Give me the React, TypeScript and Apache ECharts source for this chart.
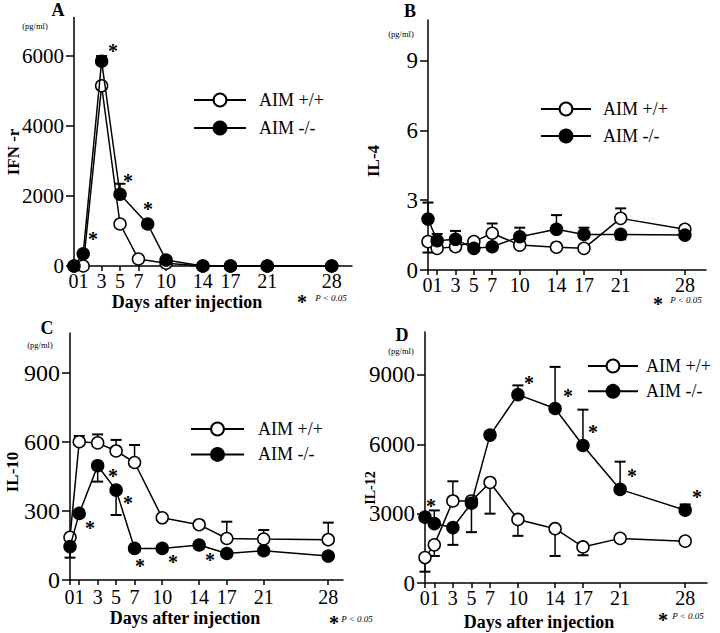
import React, { useEffect, useRef } from "react";
import * as echarts from "echarts";

const FONT = "'Liberation Serif', 'Times New Roman', serif";

// Shared x categories (days after injection)
const days = [0, 1, 3, 5, 7, 10, 14, 17, 21, 28];
// Tick labels: days 0 and 1 sit so close that they read as one "01" label
const dayLabelValues = [0.5, 3, 5, 7, 10, 14, 17, 21, 28];
const dayLabelText = ["01", "3", "5", "7", "10", "14", "17", "21", "28"];

// Panel A: IFN-r
const ifnTicks = [0, 2000, 4000, 6000];
const ifnWt = [0, 0, 5150, 1200, 200, 80, 0, 0, 0, 0];
const ifnKoDays = [0, 1, 3, 5, 8, 10, 14, 17, 21, 28];
const ifnKo = [0, 350, 5850, 2050, 1200, 170, 0, 0, 0, 0];
const ifnWtErr: number[][] = [];
const ifnKoErr = [[3, 5850, 6000], [5, 2050, 2350]];
const ifnStars = [[4.24, 6257], [5.87, 2543], [8.04, 1743], [2.07, 886]];

// Panel B: IL-4
const il4Ticks = [0, 3, 6, 9];
const il4Wt = [1.22, 0.93, 1.0, 1.22, 1.58, 1.07, 0.98, 0.93, 2.22, 1.75];
const il4Ko = [2.19, 1.26, 1.32, 0.93, 1.0, 1.43, 1.75, 1.53, 1.53, 1.5];
const il4WtErr = [[0, 1.22, 0.75], [7, 1.58, 2.0], [21, 2.22, 2.65]];
const il4KoErr = [[0, 2.19, 2.9], [1, 1.26, 1.55], [3, 1.32, 1.68], [10, 1.43, 1.82], [14, 1.75, 2.36], [17, 1.53, 1.82], [21, 1.53, 1.32]];
const il4Stars: number[][] = [];

// Panel C: IL-10
const il10Ticks = [0, 300, 600, 900];
const il10Wt = [185, 600, 595, 560, 510, 270, 240, 180, 178, 175];
const il10Ko = [145, 289, 496, 390, 137, 137, 152, 115, 127, 104];
const il10WtErr = [[1, 600, 625], [3, 595, 632], [5, 560, 608], [7, 510, 586], [17, 180, 253], [21, 178, 217], [28, 175, 249]];
const il10KoErr = [[0, 145, 97], [3, 496, 427], [5, 390, 282]];
const il10Stars = [[2.17, 243], [4.66, 469], [6.28, 352], [7.58, 78], [11.16, 95], [15.17, 104]];

// Panel D: IL-12
const il12Ticks = [0, 3000, 6000, 9000];
const il12Wt = [1100, 1650, 3550, 3550, 4350, 2750, 2350, 1560, 1930, 1810];
const il12Ko = [2850, 2570, 2400, 3450, 6400, 8150, 7550, 5950, 4050, 3150];
const il12WtErr = [[0, 1100, 490], [1, 1650, 1170], [3, 3550, 4400], [7, 4350, 3000], [10, 2750, 2040], [14, 2350, 1170], [17, 1560, 1200]];
const il12KoErr = [[1, 2570, 3140], [3, 2400, 1650], [5, 3450, 2200], [7, 6400, 6550], [10, 8150, 8550], [14, 7550, 9350], [17, 5950, 7500], [21, 4050, 5250], [28, 3150, 3400]];
const il12Stars = [[11.19, 8827], [15.39, 8265], [18.08, 6707], [22.28, 4803], [29.28, 3894], [0.65, 3505]];

const WT = "AIM +/+";
const KO = "AIM -/-";

const zip = (xs: number[], ys: number[]) => xs.map((x, i) => [x, ys[i]]);

const panels = [
  {
    grid: { left: 74, top: 17.5, width: 278, height: 248.5 },
    xMax: 30.2, yMax: 7100, yTicks: ifnTicks, yFont: 21, xMargin: 5,
    wt: zip(days, ifnWt), ko: zip(ifnKoDays, ifnKo),
    wtErr: ifnWtErr, koErr: ifnKoErr, stars: ifnStars,
    legend: { left: 193, top: 91, itemWidth: 52, itemGap: 10, pad: 8 },
  },
  {
    grid: { left: 428, top: 20, width: 278, height: 250 },
    xMax: 30.3, yMax: 10.75, yTicks: il4Ticks, yFont: 23, xMargin: 5,
    wt: zip(days, il4Wt), ko: zip(days, il4Ko),
    wtErr: il4WtErr, koErr: il4KoErr, stars: il4Stars,
    legend: { left: 540, top: 100, itemWidth: 50, itemGap: 9, pad: 7 },
  },
  {
    grid: { left: 70, top: 333, width: 273, height: 247 },
    xMax: 29.6, yMax: 1072, yTicks: il10Ticks, yFont: 24, xMargin: 7,
    wt: zip(days, il10Wt), ko: zip(days, il10Ko),
    wtErr: il10WtErr, koErr: il10KoErr, stars: il10Stars,
    legend: { left: 190, top: 420, itemWidth: 53, itemGap: 7.4, pad: 9 },
  },
  {
    grid: { left: 425, top: 332, width: 282, height: 251 },
    xMax: 30.35, yMax: 10860, yTicks: il12Ticks, yFont: 23, xMargin: 5,
    wt: zip(days, il12Wt), ko: zip(days, il12Ko),
    wtErr: il12WtErr, koErr: il12KoErr, stars: il12Stars,
    legend: { left: 587, top: 357, itemWidth: 50, itemGap: 7.3, pad: 3 },
  },
];

const errRender = (params: any, api: any) => {
  const x = api.value(0);
  const v = api.value(1);
  const e = api.value(2);
  const p = api.coord([x, v]);
  const q = api.coord([x, e]);
  return {
    type: "group",
    children: [
      { type: "line", shape: { x1: p[0], y1: p[1], x2: q[0], y2: q[1] }, style: { stroke: "#000", lineWidth: 1.5 } },
      { type: "line", shape: { x1: q[0] - 5.5, y1: q[1], x2: q[0] + 5.5, y2: q[1] }, style: { stroke: "#000", lineWidth: 2 } },
    ],
  };
};

const starRender = (params: any, api: any) => {
  const p = api.coord([api.value(0), api.value(1)]);
  return {
    type: "text",
    x: p[0],
    y: p[1] + 4,
    style: {
      text: "*", fill: "#000", fontSize: 20, fontWeight: "bold", fontFamily: FONT,
      align: "center", verticalAlign: "middle",
    },
  };
};

const plain = (v: number) => String(v);
const dayLabel = (v: number) => {
  const k = dayLabelValues.indexOf(v);
  return k >= 0 ? dayLabelText[k] : "";
};

function buildOption() {
  const axisLineStyle = { color: "#000", width: 1.5 };
  const grid: any[] = [];
  const xAxis: any[] = [];
  const yAxis: any[] = [];
  const series: any[] = [];
  const legend: any[] = [];

  panels.forEach((p, i) => {
    grid.push({ ...p.grid, containLabel: false });
    xAxis.push({
      type: "value", gridIndex: i, min: 0, max: p.xMax,
      axisLine: { show: true, onZero: false, lineStyle: axisLineStyle },
      splitLine: { show: false },
      axisTick: { show: true, customValues: days, length: 5, lineStyle: axisLineStyle },
      axisLabel: {
        customValues: dayLabelValues, fontSize: 20, fontFamily: FONT, color: "#000", margin: p.xMargin,
        showMinLabel: true, showMaxLabel: true, hideOverlap: false, formatter: dayLabel,
      },
    });
    yAxis.push({
      type: "value", gridIndex: i, min: 0, max: p.yMax,
      axisLine: { show: true, onZero: false, lineStyle: axisLineStyle },
      splitLine: { show: false },
      axisTick: { show: true, customValues: p.yTicks, length: 8, lineStyle: axisLineStyle },
      axisLabel: {
        customValues: p.yTicks, fontSize: p.yFont, fontFamily: FONT, color: "#000", margin: 10,
        showMinLabel: true, formatter: plain,
      },
    });
    series.push(
      { type: "custom", xAxisIndex: i, yAxisIndex: i, data: p.wtErr, renderItem: errRender, encode: { x: 0, y: [1, 2] }, clip: false, z: 1, silent: true, itemStyle: { color: "#000" } },
      { type: "custom", xAxisIndex: i, yAxisIndex: i, data: p.koErr, renderItem: errRender, encode: { x: 0, y: [1, 2] }, clip: false, z: 1, silent: true, itemStyle: { color: "#000" } },
      {
        type: "line", name: WT, xAxisIndex: i, yAxisIndex: i, data: p.wt, clip: false, z: 2,
        symbol: "circle", symbolSize: 12, showSymbol: true,
        lineStyle: { color: "#000", width: 1.5 },
        itemStyle: { color: "#fff", borderColor: "#000", borderWidth: 1.5 },
        emphasis: { disabled: true },
      },
      {
        type: "line", name: KO, xAxisIndex: i, yAxisIndex: i, data: p.ko, clip: false, z: 3,
        symbol: "circle", symbolSize: 12, showSymbol: true,
        lineStyle: { color: "#000", width: 1.5 },
        itemStyle: { color: "#000", borderColor: "#000", borderWidth: 1.5 },
        emphasis: { disabled: true },
      },
      { type: "custom", xAxisIndex: i, yAxisIndex: i, data: p.stars, renderItem: starRender, encode: { x: 0, y: 1 }, clip: false, z: 4, silent: true, itemStyle: { color: "#000" } }
    );
    legend.push({
      data: [WT, KO], orient: "vertical", left: p.legend.left, top: p.legend.top,
      itemWidth: p.legend.itemWidth, itemHeight: 16, itemGap: p.legend.itemGap, padding: 0,
      selectedMode: false,
      textStyle: { fontSize: 18, fontFamily: FONT, color: "#000", lineHeight: 16, padding: [0, 0, 0, p.legend.pad] },
    });
  });

  const txt = (x: number, y: number, text: string, font: string, extra: any = {}) => ({
    type: "text", x, y, ...extra,
    style: { text, font, fill: "#000", align: "center", verticalAlign: "middle" },
  });
  const bold18 = `bold 18px ${FONT}`;
  const small = `8.5px ${FONT}`;
  const yName = `bold 17px ${FONT}`;
  const foot = `italic 9px ${FONT}`;
  const footStar = `bold 20px ${FONT}`;

  const graphic = [
    txt(58, 10, "A", bold18), txt(410, 11, "B", bold18), txt(47, 328, "C", bold18), txt(402, 335, "D", bold18),
    txt(35, 26, "(pg/ml)", small), txt(401, 34, "(pg/ml)", small), txt(40, 345, "(pg/ml)", small), txt(401, 351, "(pg/ml)", small),
    txt(13, 152, "IFN -r", yName, { rotation: Math.PI / 2 }),
    txt(373, 161, "IL-4", yName, { rotation: Math.PI / 2 }),
    txt(12, 472, "IL-10", yName, { rotation: Math.PI / 2 }),
    txt(370, 488, "IL-12", `bold 14px ${FONT}`, { rotation: Math.PI / 2 }),
    txt(187, 302, "Days after injection", bold18),
    txt(185, 618, "Days after injection", bold18),
    txt(539, 622, "Days after injection", bold18),
    txt(302, 302, "*", footStar), txt(331, 298, "P < 0.05", foot),
    txt(658, 304, "*", footStar), txt(686, 300, "P < 0.05", foot),
    txt(334, 623, "*", footStar), txt(357, 619, "P < 0.05", foot),
    txt(663, 620, "*", footStar), txt(688, 616, "P < 0.05", foot),
  ];

  return {
    animation: false,
    backgroundColor: "#fff",
    color: ["#000"],
    textStyle: { fontFamily: FONT },
    grid, xAxis, yAxis, series, legend, graphic,
  };
}

export default function App() {
  const ref = useRef<HTMLDivElement>(null);
  useEffect(() => {
    if (!ref.current) return;
    const chart = echarts.init(ref.current, null, { renderer: "svg" });
    chart.setOption(buildOption() as any);
    return () => chart.dispose();
  }, []);
  return <div ref={ref} style={{ position: "absolute", left: 0, top: 0, width: 720, height: 633 }} />;
}
